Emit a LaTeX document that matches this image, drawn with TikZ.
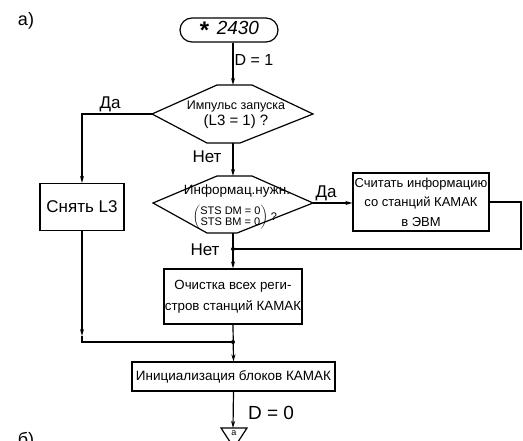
\documentclass[tikz,border=0pt]{standalone}
\usepackage{fontspec}
\setmainfont{Liberation Sans}
\usetikzlibrary{arrows.meta}
\newcommand\fsz[2]{\fontsize{#1}{#2}\selectfont}
\begin{document}
\begin{tikzpicture}[x=1pt,y=-1pt,
  ln/.style={line width=1.2pt},
  arr/.style={ln,-{Stealth[length=7pt,width=4pt]}},
  blk/.style={draw,ln,inner sep=0pt,align=center},
  lbl/.style={inner sep=0pt,align=center},
  jdot/.style={circle,fill,inner sep=0pt,minimum size=4pt}]
\useasboundingbox (0,0) rectangle (523,441);

% labels a) and b)
\node[lbl,font=\fsz{18}{20}] (la) at (26,21) {а)};
\node[lbl,font=\fsz{18}{20}] (lb) at (26,441) {б)};

% terminal
\node[draw,ln,rounded corners=12pt,minimum width=98pt,minimum height=24pt,inner sep=0pt,font=\fsz{19}{22}\itshape] (t) at (229,30) {\raisebox{-4pt}{\fsz{24}{24}\bfseries *}\, 2430};

% decision 1
\coordinate (d1l) at (152,114);
\coordinate (d1r) at (313,114);
\coordinate (d1t) at (233,85);
\coordinate (d1b) at (233,143);
\draw[ln] (d1l) -- (217,85) -- (252,85) -- (d1r) -- (240,143) -- (207,143) -- cycle;
\node[lbl,font=\fsz{12.5}{16}] (d1) at (236,115) {Импульс запуска\\{\fsz{15}{16}(L3 = 1) ?}};

% decision 2
\coordinate (d2l) at (153,203);
\coordinate (d2r) at (313,203);
\coordinate (d2t) at (233,176);
\coordinate (d2b) at (233,233);
\draw[ln] (d2l) -- (217,176) -- (252,176) -- (d2r) -- (237,233) -- (207,233) -- cycle;
\node[lbl,font=\fsz{13.5}{15}] (d2) at (237,191) {Информац.нужн.};
\node[lbl,font=\fsz{11}{11}] (d2q) at (235,217.5) {$\left(\mbox{\begin{tabular}{@{}c@{}}STS DM = 0\\STS BM = 0\end{tabular}}\right)$ ?};

% process boxes
\node[blk,minimum width=84pt,minimum height=47pt,font=\fsz{17}{19}] (s) at (82,207) {Снять L3};
\node[blk,minimum width=136pt,minimum height=58pt,font=\fsz{13}{19.5}] (c) at (421,202) {Считать информацию\\со станций КАМАК\\в ЭВМ};
\node[blk,minimum width=138pt,minimum height=55pt,font=\fsz{13.3}{21}] (o) at (233,296.5) {Очистка всех реги-\\стров станций КАМАК};
\node[blk,minimum width=203pt,minimum height=29pt,font=\fsz{13.5}{16}] (i) at (233.5,376.5) {Инициализация блоков КАМАК};

% end connector triangle
\coordinate (trt) at (233,428);
\draw[ln] (221,428) -- (247,428) -- (234,448) -- cycle;
\node[lbl,font=\fsz{9}{10}] (tr) at (234,433) {а};

% junctions
\coordinate (j1) at (233,249);
\coordinate (j2) at (233,342);
\node[jdot] (j1d) at (j1) {};
\node[jdot] (j2d) at (j2) {};

% connectors
\draw[arr] (t.south -| d1t) -- (d1t);
\draw[arr] (d1l) -| (s.north);
\coordinate (sa) at (82,336);
\draw[arr] (s.south) -- (sa);
\draw[ln] (sa) |- (j2);
\draw[arr] (d1b) -- (d2t);
\draw[arr] (d2r) -- (c.west |- d2r);
\draw[ln] (c.east) -- (521,202) |- (j1);
\draw[arr] (d2b) -- (o.north);
\draw[arr] (o.south) -- (i.north);
\draw[arr] (i.south) -- (trt);

% edge labels
\node[lbl,font=\fsz{16}{16}] (l1) at (254,60) {D = 1};
\node[lbl,font=\fsz{17}{16}] (l2) at (110,104) {Да};
\node[lbl,font=\fsz{17}{16}] (l3) at (207,157) {Нет};
\node[lbl,font=\fsz{17}{16}] (l4) at (326,193) {Да};
\node[lbl,font=\fsz{17}{16}] (l5) at (205,250) {Нет};
\node[lbl,font=\fsz{19}{18}] (l6) at (271,413) {D = 0};
\end{tikzpicture}
\end{document}
